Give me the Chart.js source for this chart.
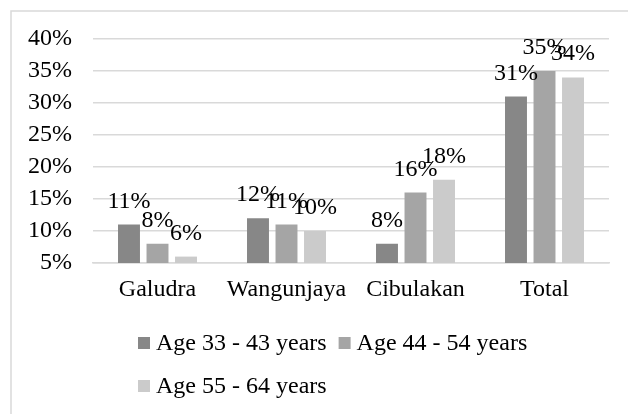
<!DOCTYPE html>
<html><head><meta charset="utf-8">
<script src="https://cdn.jsdelivr.net/npm/chart.js@4.4.0/dist/chart.umd.min.js"></script>
<style>html,body{margin:0;padding:0;background:#fff;} #wrap{position:relative;width:628px;height:414px;}</style>
</head><body><div id="wrap"><canvas id="c" width="628" height="414"></canvas></div>
<script>
const categories = ['Galudra', 'Wangunjaya', 'Cibulakan', 'Total'];
const seriesNames = ['Age 33 - 43 years', 'Age 44 - 54 years', 'Age 55 - 64 years'];
const age33to43 = [11, 12, 8, 31];
const age44to54 = [8, 11, 16, 35];
const age55to64 = [6, 10, 18, 34];
const yMin = 5, yMax = 40, yStep = 5;
const seriesColors = ['#878787', '#a5a5a5', '#cbcbcb'];

const FONT = "'Liberation Serif', 'Times New Roman', serif";
Chart.defaults.font.family = FONT;
Chart.defaults.font.size = 24;
Chart.defaults.color = '#000';

const borderPlugin = {
  id: 'frame',
  beforeDraw(chart) {
    const ctx = chart.ctx;
    ctx.save();
    ctx.strokeStyle = '#d9d9d9';
    ctx.lineWidth = 1.5;
    ctx.beginPath();
    ctx.moveTo(11, chart.height);
    ctx.lineTo(11, 11);
    ctx.lineTo(chart.width, 11);
    ctx.stroke();
    ctx.restore();
  }
};

const valueLabels = {
  id: 'valueLabels',
  afterDatasetsDraw(chart) {
    const ctx = chart.ctx;
    ctx.save();
    ctx.font = '24px ' + FONT;
    ctx.fillStyle = '#000';
    ctx.textAlign = 'center';
    ctx.textBaseline = 'alphabetic';
    chart.data.datasets.forEach((ds, i) => {
      chart.getDatasetMeta(i).data.forEach((el, j) => {
        ctx.fillText(ds.data[j] + '%', el.x, el.y - 17);
      });
    });
    ctx.restore();
  }
};

const customLegend = {
  id: 'customLegend',
  afterDraw(chart) {
    const ctx = chart.ctx;
    ctx.save();
    ctx.font = '24px ' + FONT;
    ctx.fillStyle = '#000';
    ctx.textBaseline = 'alphabetic';
    const startX = 138, box = 12, gap = 6, itemGap = 12;
    const rows = [[0, 1], [2]];
    const baselines = [350, 393];
    rows.forEach((row, r) => {
      let x = startX;
      row.forEach(i => {
        const ds = chart.data.datasets[i];
        ctx.fillStyle = ds.backgroundColor;
        ctx.fillRect(x, baselines[r] - 13, box, box);
        ctx.fillStyle = '#000';
        ctx.fillText(ds.label, x + box + gap, baselines[r]);
        x += box + gap + ctx.measureText(ds.label).width + itemGap;
      });
    });
    ctx.restore();
  }
};

const seriesData = [age33to43, age44to54, age55to64];

new Chart(document.getElementById('c'), {
  type: 'bar',
  data: {
    labels: categories,
    datasets: seriesNames.map((name, i) => ({
      label: name,
      data: seriesData[i],
      backgroundColor: seriesColors[i],
      borderWidth: 0,
      categoryPercentage: 0.663,
      barPercentage: 0.77
    }))
  },
  options: {
    responsive: false,
    devicePixelRatio: 1,
    animation: false,
    layout: { padding: { left: 0, right: 19, top: 39, bottom: 111 } },
    plugins: { legend: { display: false }, tooltip: { enabled: false } },
    scales: {
      x: {
        grid: { display: false, drawTicks: false },
        border: { display: true, color: '#d9d9d9', width: 1.5 },
        ticks: { padding: 12, font: { size: 24 }, color: '#000' },
        afterFit(scale) { scale.height = 40; }
      },
      y: {
        min: yMin, max: yMax,
        grid: { color: '#d9d9d9', lineWidth: 1.5, drawTicks: false },
        border: { display: false },
        ticks: { stepSize: yStep, padding: 21, font: { size: 24 }, color: '#000',
          callback: v => v + '%' },
        afterFit(scale) { scale.width = 93; }
      }
    }
  },
  plugins: [borderPlugin, valueLabels, customLegend]
});
</script>
</body></html>
